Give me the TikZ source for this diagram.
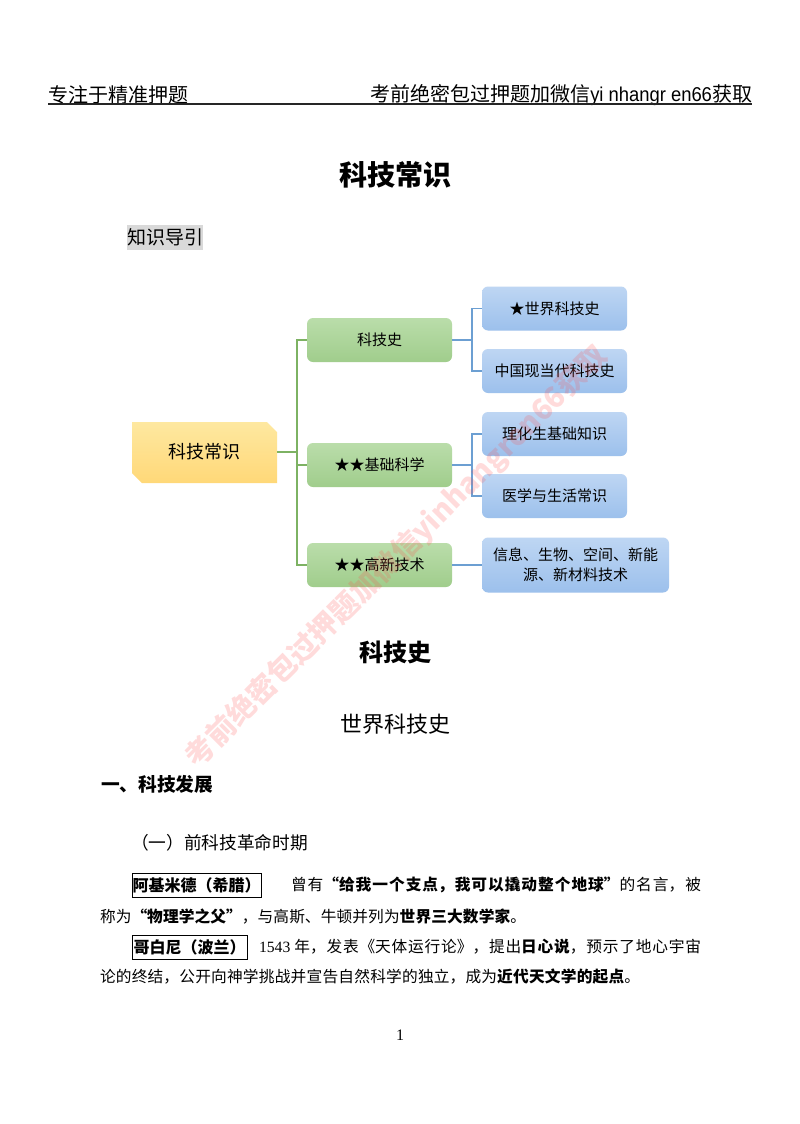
\documentclass[tikz,border=0pt]{standalone}
\usepackage{graphicx}
\usepackage{fontspec}
\setmainfont{Noto Sans CJK SC}
\newfontfamily\latinsans{Liberation Sans}
\newfontfamily\latinserif{Liberation Serif}
\XeTeXlinebreaklocale "zh"
\newcommand{\fitline}[2]{\parbox[c]{#1pt}{\XeTeXlinebreakskip=0pt plus 3pt minus 0.6pt\parfillskip=0pt\hbadness=10000\hfuzz=20pt\relax #2\par}}
\newcommand{\fs}[1]{\fontsize{#1pt}{#1pt}\selectfont}
\definecolor{greenline}{HTML}{7DB263}
\definecolor{blueline}{HTML}{6C9FD2}
\definecolor{gtop}{RGB}{186,221,170}
\definecolor{gbot}{RGB}{160,205,140}
\definecolor{btop}{RGB}{190,214,243}
\definecolor{bbot}{RGB}{156,192,236}
\definecolor{ytop}{RGB}{254,232,160}
\definecolor{ybot}{RGB}{255,216,120}
\tikzset{
  x=1pt,y=-1pt,
  plain/.style={inner sep=0pt,outer sep=0pt,text=black},
  gbox/.style={plain,rounded corners=6pt,minimum width=145pt,minimum height=44pt,top color=gtop,bottom color=gbot,font=\fs{15}},
  bbox/.style={plain,rounded corners=6pt,minimum width=145pt,minimum height=44pt,top color=btop,bottom color=bbot,font=\fs{15}},
  glink/.style={greenline,line width=1.5pt},
  blink/.style={blueline,line width=1.5pt},
  body/.style={plain,anchor=west,font=\fs{15.7}},
  namebox/.style={draw=black,line width=0.9pt,inner sep=0pt,outer sep=0pt,anchor=west,font=\fs{16}\bfseries,minimum height=24pt,align=center},
}
\begin{document}
\begin{tikzpicture}
\useasboundingbox (0,0) rectangle (800,1124);
\fill[white] (0,0) rectangle (800,1124);
% header
\node[plain,anchor=west,font=\fs{20}] (hl) at (48,95) {专注于精准押题};
\node[plain,anchor=east,font=\fs{20}] (hr) at (752,95) {考前绝密包过押题加微信\scalebox{0.92}[1]{\latinsans yi nhangr en66}获取};
\coordinate (rl) at (48,104);
\coordinate (rr) at (752,104);
\draw[black!85,line width=1.3pt] (rl) -- (rr);
% titles
\node[plain,font=\fs{28}\bfseries] (title) at (395.5,175) {科技常识};
\node[plain,fill=black!15,minimum width=76pt,minimum height=25pt,font=\fs{19}] (guide) at (165,237.5) {知识导引};
% root shape
\shade[top color=ytop,bottom color=ybot]
  (132,422) -- (267,422) -- (277,432) -- (277,483) -- (142,483) -- (132,473) -- cycle;
\node[plain,minimum width=145pt,minimum height=61pt,font=\fs{18}] (root) at (204.5,452) {科技常识};
% second level
\node[gbox] (g1) at (379.5,340) {科技史};
\node[gbox] (g2) at (379.5,465) {★★基础科学};
\node[gbox] (g3) at (379.5,565) {★★高新技术};
% third level
\node[bbox] (b1) at (554.5,308.5) {★世界科技史};
\node[bbox] (b2) at (554.5,371) {中国现当代科技史};
\node[bbox] (b3) at (554.5,434) {理化生基础知识};
\node[bbox] (b4) at (554.5,496) {医学与生活常识};
\node[bbox,minimum width=187pt,minimum height=55pt,align=center] (b5) at (575.5,565) {信息、生物、空间、新能\\[5pt]源、新材料技术};
% connectors
\coordinate (gt) at (297,452);
\coordinate (bt1) at (472,340);
\coordinate (bt2) at (472,465);
\draw[glink] (root.east) -- (gt);
\draw[glink] (gt) |- (g1.west);
\draw[glink] (gt) |- (g2.west);
\draw[glink] (gt) |- (g3.west);
\draw[blink] (g1.east) -- (bt1);
\draw[blink] (bt1) |- (b1.west);
\draw[blink] (bt1) |- (b2.west);
\draw[blink] (g2.east) -- (bt2);
\draw[blink] (bt2) |- (b3.west);
\draw[blink] (bt2) |- (b4.west);
\draw[blink] (g3.east) -- (b5.west);
% headings
\node[plain,font=\fs{24}\bfseries] (h1) at (395.5,652) {科技史};
\node[plain,font=\fs{22}] (h2) at (395.5,724) {世界科技史};
\node[plain,anchor=west,font=\fs{18.7}\bfseries] (h3) at (101,784) {一、科技发展};
\node[plain,anchor=west,font=\fs{17.7}] (h4) at (131,843) {（一）前科技革命时期};
% body
\node[namebox,minimum width=129pt] (n1) at (132,885) {阿基米德（希腊）};
\node[body] (l1) at (291,885) {\fitline{410}{曾有{\bfseries “给我一个支点，我可以撬动整个地球”}的名言，被}};
\node[body] (l2) at (100,916) {\fitline{426}{称为{\bfseries “物理学之父”}，与高斯、牛顿并列为{\bfseries 世界三大数学家}。}};
\node[namebox,minimum width=115pt] (n2) at (132,947) {哥白尼（波兰）};
\node[body] (l3) at (259,947) {\fitline{442}{{\latinserif 1543} 年，发表《天体运行论》，提出{\bfseries 日心说}，预示了地心宇宙}};
\node[body] (l4) at (100,977) {\fitline{540}{论的终结，公开向神学挑战并宣告自然科学的独立，成为{\bfseries 近代天文学的起点}。}};
\node[plain,font=\latinserif\fs{16}] (page) at (400,1035) {1};
% watermark
\node[plain,rotate=45,text=red!70!white,opacity=0.2,font=\fs{29}\bfseries] (wm) at (397,557) {考前绝密包过押题加微信yinhangren66获取};
\end{tikzpicture}
\end{document}
